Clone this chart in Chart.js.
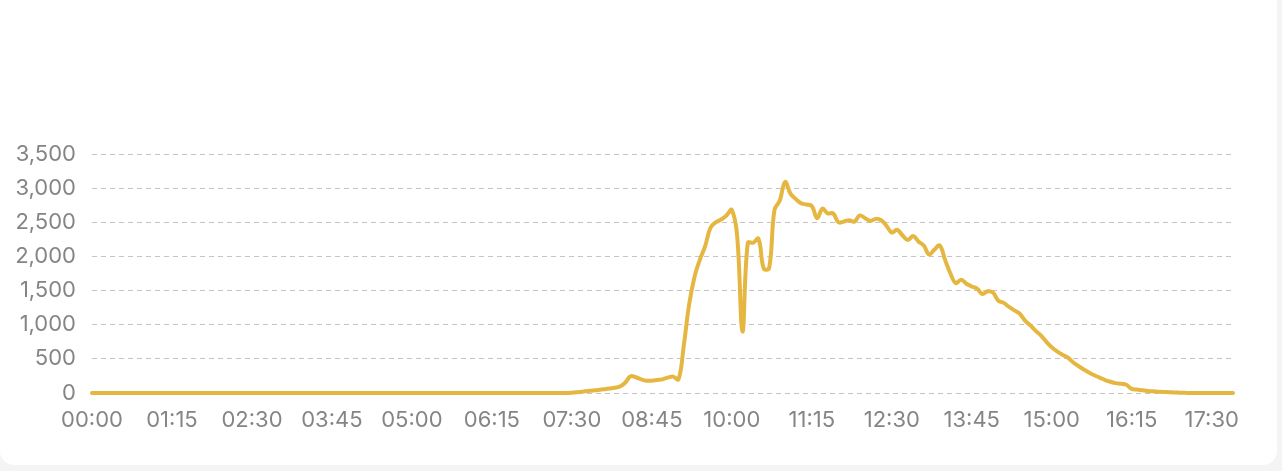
<!DOCTYPE html>
<html>
<head>
<meta charset="utf-8">
<script src="https://cdn.jsdelivr.net/npm/chart.js@4"></script>
<style>
  html, body { margin: 0; padding: 0; background: #f4f4f4; overflow: hidden; }
  #card { position: absolute; left: 0; top: -20px; width: 1277px; height: 485px; background: #fff; border-radius: 14px; }
  #wrap { position: absolute; left: 0; top: 0; width: 1277px; height: 471px; }
</style>
</head>
<body>
<div id="card"></div>
<div id="wrap"><canvas id="myChart"></canvas></div>
<script>
// 5 minute steps, 00:00 -> 17:50
const times = [];
for (let m = 0; m <= 17 * 60 + 50; m += 5) {
	times.push(String(Math.floor(m / 60)).padStart(2, '0') + ':' + String(m % 60).padStart(2, '0'));
}

// night: nothing produced until about 07:20
const nightPower = new Array(88).fill(0);

// 07:20 -> 17:50
const dayPower = [
	0, 0, 5, 12, 20, 28, 36, 45, 55, 65,
	78, 95, 150, 245, 230, 200, 180, 180, 190, 200,
	225, 240, 200, 700, 1300, 1700, 1950, 2150, 2420, 2500,
	2540, 2600, 2680, 2300, 900, 2200, 2200, 2260, 1820, 1830,
	2680, 2820, 3090, 2920, 2840, 2780, 2760, 2740, 2560, 2700,
	2630, 2630, 2500, 2510, 2530, 2510, 2600, 2560, 2520, 2550,
	2530, 2450, 2350, 2390, 2310, 2240, 2300, 2220, 2160, 2030,
	2100, 2160, 1950, 1750, 1610, 1660, 1600, 1560, 1530, 1450,
	1490, 1470, 1350, 1320, 1260, 1210, 1160, 1060, 990, 910,
	840, 750, 670, 610, 560, 520, 450, 395, 345, 300,
	260, 225, 190, 165, 145, 135, 120, 60, 50, 40,
	30, 25, 20, 15, 12, 8, 5, 3, 0, 0,
	0, 0, 0, 0, 0, 0, 0
];

const puissance = nightPower.concat(dayPower);

const yMax = 3500;
const yStep = 500;
const labelEvery = 15; // one label every 1h15

const ctx = document.getElementById('myChart');

new Chart(ctx, {
	type: 'line',
	data: {
		labels: times,
		datasets: [{
			data: puissance,
			borderColor: '#E5B740',
			borderWidth: 4,
			borderCapStyle: 'round',
			pointRadius: 0,
			tension: 0.4,
			fill: false,
			clip: false,
		}]
	},
	options: {
		responsive: true,
		maintainAspectRatio: false,
		animation: false,
		layout: {
			padding: { top: 154, right: 44, bottom: 0, left: 0 }
		},
		plugins: {
			legend: { display: false },
			tooltip: { enabled: false }
		},
		scales: {
			x: {
				grid: { display: false },
				border: { display: false },
				ticks: {
					autoSkip: false,
					maxRotation: 0,
					padding: 6,
					color: '#858585',
					font: { family: 'Inter', size: 22 },
					callback: function(value, index) {
						return index % labelEvery === 0 ? this.getLabelForValue(value) : '';
					}
				},
				afterFit: function(scale) { scale.height = 78; }
			},
			y: {
				min: 0,
				max: yMax,
				border: { display: false, dash: [5, 4] },
				grid: {
					color: '#c4c4c4',
					lineWidth: 1,
					drawTicks: false,
				},
				ticks: {
					stepSize: yStep,
					padding: 16,
					color: '#858585',
					font: { family: 'Inter', size: 22 },
				},
				afterFit: function(scale) { scale.width = 92; }
			}
		}
	}
});
</script>
</body>
</html>
